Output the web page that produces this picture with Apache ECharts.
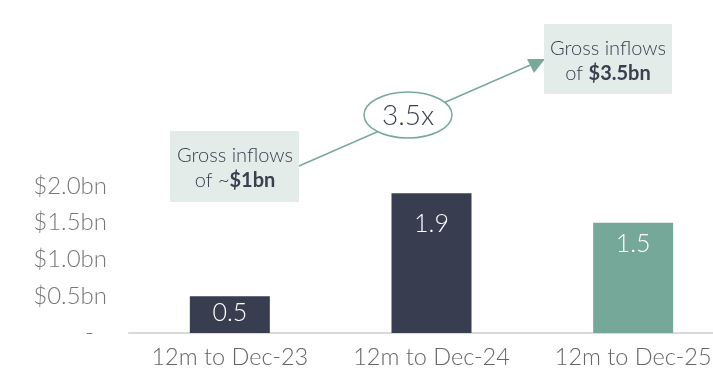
<!DOCTYPE html>
<html>
<head>
<meta charset="utf-8">
<script src="https://cdn.jsdelivr.net/npm/echarts@6/dist/echarts.min.js"></script>
<style>html,body{margin:0;padding:0;background:#fff;}#c{width:713px;height:373px;}</style>
</head>
<body>
<div id="c"></div>
<script>
var categories = ['12m to Dec-23', '12m to Dec-24', '12m to Dec-25'];
var values = [0.5, 1.9, 1.5];
var labels = ['0.5', '1.9', '1.5'];
var yTicks = [0, 0.5, 1.0, 1.5, 2.0];
var yTickLabels = ['-', '$0.5bn', '$1.0bn', '$1.5bn', '$2.0bn'];
var annotLeft = ['Gross inflows', 'of ~', '$1bn'];
var annotRight = ['Gross inflows', 'of ', '$3.5bn'];
var multipleText = '3.5x';

var barColors = ['#383e50', '#383e50', '#75a899'];
var labelDist = [4, 18, 9];
var FONT = 'Lato';
var TXT = '#3a4050';

var chart = echarts.init(document.getElementById('c'));
chart.setOption({
  animation: false,
  grid: { left: 129, top: 186, right: -21, bottom: 40, containLabel: false, outerBoundsMode: 'none' },
  xAxis: {
    type: 'category',
    data: categories,
    axisLine: { lineStyle: { color: '#d9d9d9', width: 2 } },
    axisTick: { show: false },
    axisLabel: { color: '#666', fontFamily: FONT, fontWeight: 300, fontSize: 23.5, margin: 12, interval: 0, hideOverlap: false }
  },
  yAxis: {
    type: 'value', min: 0, max: 2, interval: 0.5,
    splitLine: { show: false },
    axisLine: { show: false }, axisTick: { show: false },
    axisLabel: {
      color: '#777', fontFamily: FONT, fontWeight: 300, fontSize: 24, margin: 22,
      formatter: function (v) {
        var i = yTicks.indexOf(v);
        if (i < 0) return '';
        return v === 0 ? '{d|' + yTickLabels[i] + '}' : '{t|' + yTickLabels[i] + '}';
      },
      rich: {
        d: { color: '#777', fontFamily: FONT, fontWeight: 300, fontSize: 24, width: 22, align: 'left' },
        t: { color: '#777', fontFamily: FONT, fontWeight: 300, fontSize: 24 }
      }
    }
  },
  series: [{
    type: 'bar',
    barWidth: 80,
    data: values.map(function (v, i) {
      return {
        value: v,
        itemStyle: { color: barColors[i] },
        label: { distance: labelDist[i] }
      };
    }),
    label: {
      show: true, position: 'insideTop', color: '#fff',
      fontFamily: FONT, fontWeight: 300, fontSize: 25,
      formatter: function (p) { return labels[p.dataIndex]; }
    }
  }],
  graphic: [
    { type: 'line', shape: { x1: 299, y1: 166, x2: 535, y2: 63 }, style: { stroke: '#79a99a', lineWidth: 1.5 }, z: 10 },
    { type: 'polygon', shape: { points: [[545, 59], [527, 59], [534, 73]] }, style: { fill: '#79a99a' }, z: 10 },
    { type: 'ellipse', shape: { cx: 408, cy: 115, rx: 44, ry: 23 }, style: { fill: '#fff', stroke: '#79a99a', lineWidth: 1.5 }, z: 11 },
    { type: 'text', x: 408, y: 116, style: { text: multipleText, fill: TXT, font: '300 28px ' + FONT, align: 'center', verticalAlign: 'middle' }, z: 12 },
    { type: 'rect', shape: { x: 170, y: 131, width: 129, height: 71 }, style: { fill: '#e3ece9' }, z: 10 },
    { type: 'text', x: 235, y: 168, style: {
        text: annotLeft[0] + '\n' + '{n|' + annotLeft[1] + '}{b|' + annotLeft[2] + '}',
        fill: TXT, font: '300 20px ' + FONT, align: 'center', verticalAlign: 'middle', lineHeight: 25,
        rich: { n: { fontFamily: FONT, fontWeight: 300, fontSize: 20, fill: TXT, lineHeight: 25 }, b: { fontFamily: FONT, fontWeight: 'bold', fontSize: 20, fill: TXT, lineHeight: 25 } }
      }, z: 12 },
    { type: 'rect', shape: { x: 544, y: 24, width: 128, height: 70 }, style: { fill: '#e3ece9' }, z: 10 },
    { type: 'text', x: 608, y: 61, style: {
        text: annotRight[0] + '\n' + '{n|' + annotRight[1] + '}{b|' + annotRight[2] + '}',
        fill: TXT, font: '300 20px ' + FONT, align: 'center', verticalAlign: 'middle', lineHeight: 25,
        rich: { n: { fontFamily: FONT, fontWeight: 300, fontSize: 20, fill: TXT, lineHeight: 25 }, b: { fontFamily: FONT, fontWeight: 'bold', fontSize: 20, fill: TXT, lineHeight: 25 } }
      }, z: 12 }
  ]
});
</script>
</body>
</html>
